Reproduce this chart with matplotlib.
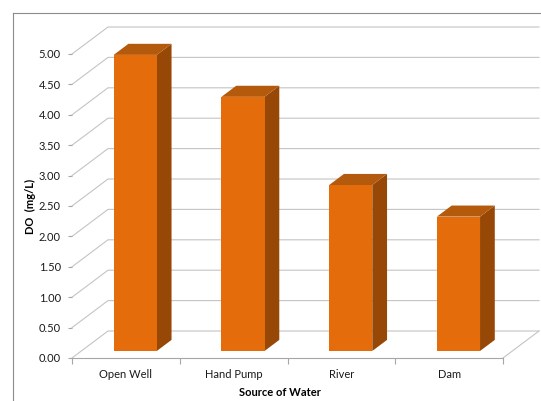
import numpy as np
import matplotlib
matplotlib.use("Agg")
import matplotlib.pyplot as plt
from matplotlib.patches import Polygon
from matplotlib.lines import Line2D

plt.rcParams['font.family'] = ['Lato', 'DejaVu Sans']

sources = ['Open Well', 'Hand Pump', 'River', 'Dam']
do_values = [4.87, 4.18, 2.73, 2.21]
y_ticks = np.arange(0, 5.01, 0.5)

# oblique depth vector, in data units (category, mg/L)
DX, DY = 0.334, 0.444
bar_w = 0.4
front = 0.26      # bar front plane, as fraction of depth
depth = 0.41      # bar depth, as fraction of depth

c_front = '#E46C0A'
c_top = '#B45A0C'
c_side = '#974806'
c_grid = '#C4C4C4'

fig = plt.figure(figsize=(5.41, 4.01), dpi=100)
ax = fig.add_axes([72 / 541, 43 / 401, 431 / 541, 304 / 401])
ax.set_xlim(-0.5, len(sources) - 0.5)
ax.set_ylim(0, 5)

x0, x1 = -0.5, len(sources) - 0.5

# side wall and back wall gridlines
for v in y_ticks:
    ax.plot([x0, x0 + DX, x1 + DX], [v, v + DY, v + DY],
            color=c_grid, lw=0.8, clip_on=False, zorder=1)
# right edge of the floor
ax.plot([x1, x1 + DX], [0, DY], color=c_grid, lw=0.8, clip_on=False, zorder=1)

# bars: front face as ordinary bars, top and side as polygons
xs = np.arange(len(sources))
base = front * DY
ax.bar(xs + front * DX, do_values, width=bar_w, bottom=base,
       color=c_front, zorder=4, clip_on=False)
for x, h in zip(xs + front * DX, do_values):
    xl, xr = x - bar_w / 2, x + bar_w / 2
    ddx, ddy = depth * DX, depth * DY
    top = base + h
    side = Polygon([(xr, base), (xr + ddx, base + ddy),
                    (xr + ddx, top + ddy), (xr, top)],
                   closed=True, fc=c_side, ec='none', zorder=3, clip_on=False)
    lid = Polygon([(xl, top), (xr, top), (xr + ddx, top + ddy), (xl + ddx, top + ddy)],
                  closed=True, fc=c_top, ec='none', zorder=3, clip_on=False)
    ax.add_patch(side)
    ax.add_patch(lid)

# axes styling
for s in ['top', 'right', 'left']:
    ax.spines[s].set_visible(False)
ax.spines['bottom'].set_color('#A6A6A6')
ax.spines['bottom'].set_linewidth(0.8)
ax.set_yticks(y_ticks)
ax.set_yticklabels([f'{v:.2f}' for v in y_ticks])
ax.set_xticks(np.arange(-0.5, len(sources), 1.0))
ax.set_xticklabels([])
ax.set_xticks(xs, minor=True)
ax.set_xticklabels(sources, minor=True)
ax.tick_params(axis='y', length=3, width=0.8, color='#A6A6A6', pad=5,
               labelsize=8, labelcolor='#1a1a1a')
ax.tick_params(axis='x', which='major', length=4, width=0.8, color='#A6A6A6')
ax.tick_params(axis='x', which='minor', length=0, pad=8, labelsize=8,
               labelcolor='#1a1a1a')
ax.set_facecolor('none')

ax.set_ylabel('DO  (mg/L)', fontsize=8, fontweight='bold')
ax.yaxis.set_label_coords(-0.083, 0.5)
ax.set_xlabel('Source of Water', fontsize=8, fontweight='bold')
ax.xaxis.set_label_coords(0.4826, -0.097)

# chart area border
fig.add_artist(Line2D([13 / 541, 13 / 541], [0, 1 - 13 / 401],
                      transform=fig.transFigure, color='#8C8C8C', lw=0.8))
fig.add_artist(Line2D([13 / 541, 1], [1 - 13 / 401, 1 - 13 / 401],
                      transform=fig.transFigure, color='#8C8C8C', lw=0.8))

fig.savefig('out.png', dpi=100)
